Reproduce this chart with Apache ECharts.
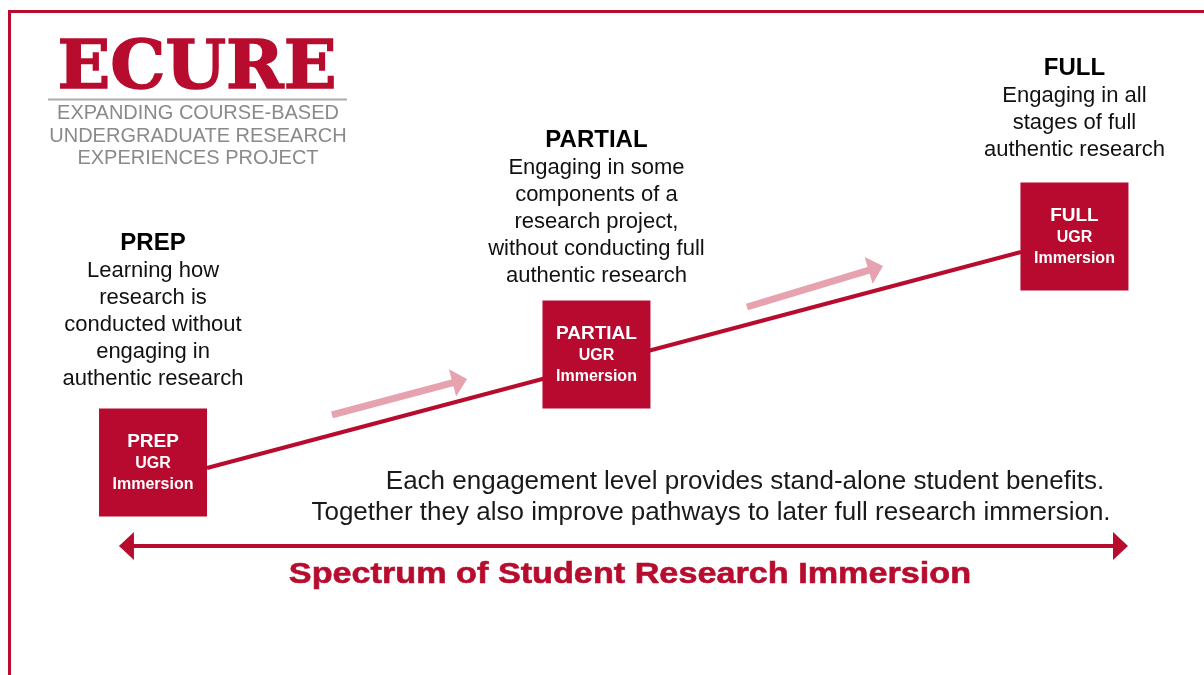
<!DOCTYPE html>
<html lang="en">
<head>
    <meta charset="UTF-8">
    <title>ECURE spectrum</title>
    <script src="https://cdn.jsdelivr.net/npm/echarts@6/dist/echarts.min.js"></script>
    <style>
        body, html { margin: 0; width: 100%; height: 100%; background: #fff; }
        #chart { width: 1204px; height: 675px; }
    </style>
</head>
<body>
    <div id="chart"></div>
    <script>
        // stages along the spectrum (x = spectrum position %, y = immersion %)
        var stages = ['PREP', 'PARTIAL', 'FULL'];
        var stageX = [12.71, 49.54, 89.24];
        var stageY = [31.48, 47.48, 64.96];
        var descriptions = [
            ['Learning how', 'research is', 'conducted without', 'engaging in', 'authentic research'],
            ['Engaging in some', 'components of a', 'research project,', 'without conducting full', 'authentic research'],
            ['Engaging in all', 'stages of full', 'authentic research']
        ];
        // connector line [x1, y1, x2, y2]
        var connector = [17.19, 30.67, 84.80, 62.67];
        // arrows [xStart, yStart, xTip, yTip]
        var progressArrows = [
            [27.57, 38.52, 38.79, 43.85],
            [62.04, 54.52, 73.34, 60.59]
        ];
        var spectrumArrows = [
            [51.8, 19.11, 9.88, 19.11],
            [51.7, 19.11, 93.69, 19.11]
        ];

        var red = '#b80c2f';
        var pink = '#e6a2ae';
        var labelGap = [16, 11, 19];
        var headW = 28, headL = 15;

        var myChart = echarts.init(document.getElementById('chart'));
        var kx = myChart.getWidth() / 100, ky = myChart.getHeight() / 100;

        // line ends at the centre of each head, head rotated along the line
        function arrowParts(list) {
            var lines = [], heads = [];
            list.forEach(function (a) {
                var dx = (a[2] - a[0]) * kx, dy = (a[3] - a[1]) * ky;
                var len = Math.sqrt(dx * dx + dy * dy);
                var cx = a[2] - (headL / 2) * dx / len / kx;
                var cy = a[3] - (headL / 2) * dy / len / ky;
                lines.push({ coords: [[a[0], a[1]], [cx, cy]] });
                heads.push({ value: [cx, cy], symbolRotate: Math.atan2(dy, dx) * 180 / Math.PI - 90 });
            });
            return { lines: lines, heads: heads };
        }
        var prog = arrowParts(progressArrows);
        var spec = arrowParts(spectrumArrows);
        var boxData = stages.map(function (s, i) { return [stageX[i], stageY[i]]; });

        var option = {
            animation: false,
            grid: { left: 0, right: 0, top: 0, bottom: 0 },
            xAxis: { type: 'value', min: 0, max: 100, show: false },
            yAxis: { type: 'value', min: 0, max: 100, show: false },
            graphic: [
                { type: 'rect', shape: { x: 9.5, y: 11.5, width: 1300, height: 800 },
                  style: { fill: 'none', stroke: red, lineWidth: 3 } },
                { type: 'text', x: 197, y: 70, scaleX: 1.02,
                  style: { text: 'ECURE', fill: red, stroke: red, lineWidth: 1.5,
                           fontFamily: '"DejaVu Serif", "Liberation Serif", serif',
                           fontWeight: 'bold', fontSize: 68, align: 'center', verticalAlign: 'middle' } },
                { type: 'line', shape: { x1: 48, y1: 99.5, x2: 347, y2: 99.5 },
                  style: { stroke: '#aaaaaa', lineWidth: 2 } },
                { type: 'text', x: 198, y: 113, style: { text: 'EXPANDING COURSE-BASED', fill: '#8a8a8a',
                  font: '20px "Liberation Sans"', align: 'center', verticalAlign: 'middle' } },
                { type: 'text', x: 198, y: 136, style: { text: 'UNDERGRADUATE RESEARCH', fill: '#8a8a8a',
                  font: '20px "Liberation Sans"', align: 'center', verticalAlign: 'middle' } },
                { type: 'text', x: 198, y: 158, style: { text: 'EXPERIENCES PROJECT', fill: '#8a8a8a',
                  font: '20px "Liberation Sans"', align: 'center', verticalAlign: 'middle' } },
                { type: 'text', x: 745, y: 482, style: { text: 'Each engagement level provides stand-alone student benefits.',
                  fill: '#1a1a1a', font: '26px "Liberation Sans"', align: 'center', verticalAlign: 'middle' } },
                { type: 'text', x: 711, y: 513, style: { text: 'Together they also improve pathways to later full research immersion.',
                  fill: '#1a1a1a', font: '26px "Liberation Sans"', align: 'center', verticalAlign: 'middle' } },
                { type: 'text', x: 630, y: 575, scaleX: 1.14, style: { text: 'Spectrum of Student Research Immersion',
                  fill: red, stroke: red, lineWidth: 0.6, font: 'bold 30px "Liberation Sans"', align: 'center', verticalAlign: 'middle' } }
            ],
            series: [
                {
                    type: 'lines',
                    coordinateSystem: 'cartesian2d',
                    symbol: 'none',
                    lineStyle: { color: red, width: 4, opacity: 1 },
                    data: [{ coords: [[connector[0], connector[1]], [connector[2], connector[3]]] }],
                    z: 1
                },
                {
                    type: 'lines',
                    coordinateSystem: 'cartesian2d',
                    symbol: 'none',
                    lineStyle: { color: pink, width: 7, opacity: 1 },
                    data: prog.lines
                },
                {
                    type: 'scatter',
                    symbol: 'triangle',
                    symbolSize: [headW, headL],
                    itemStyle: { color: pink, opacity: 1 },
                    data: prog.heads
                },
                {
                    type: 'lines',
                    coordinateSystem: 'cartesian2d',
                    symbol: 'none',
                    lineStyle: { color: red, width: 4, opacity: 1, cap: 'butt' },
                    data: spec.lines
                },
                {
                    type: 'scatter',
                    symbol: 'triangle',
                    symbolSize: [headW, headL],
                    itemStyle: { color: red, opacity: 1 },
                    data: spec.heads
                },
                {
                    type: 'scatter',
                    symbol: 'rect',
                    symbolSize: 108,
                    itemStyle: { color: '#b70a2e', opacity: 1 },
                    z: 3,
                    label: {
                        show: true,
                        position: 'inside',
                        formatter: function (p) { return '{a|' + stages[p.dataIndex] + '}\n{b|UGR}\n{b|Immersion}'; },
                        rich: {
                            a: { fontFamily: 'Liberation Sans', fontWeight: 'bold', fontSize: 19, color: '#fff', lineHeight: 23 },
                            b: { fontFamily: 'Liberation Sans', fontWeight: 'bold', fontSize: 16, color: '#fff', lineHeight: 21 }
                        }
                    },
                    data: boxData
                },
                {
                    type: 'scatter',
                    symbol: 'rect',
                    symbolSize: 108,
                    itemStyle: { color: 'rgba(0,0,0,0)' },
                    silent: true,
                    label: {
                        show: true,
                        position: 'top',
                        align: 'center',
                        color: '#111',
                        opacity: 1,
                        textBorderWidth: 0,
                        formatter: function (p) {
                            return '{t|' + stages[p.dataIndex] + '}\n' +
                                descriptions[p.dataIndex].map(function (d) { return '{d|' + d + '}'; }).join('\n');
                        },
                        rich: {
                            t: { fontFamily: 'Liberation Sans', fontWeight: 'bold', fontSize: 24, color: '#000', lineHeight: 28, align: 'center', textBorderWidth: 0 },
                            d: { fontFamily: 'Liberation Sans', fontSize: 22, color: '#111', lineHeight: 27, align: 'center', textBorderWidth: 0 }
                        }
                    },
                    data: boxData.map(function (v, i) { return { value: v, label: { distance: labelGap[i] } }; })
                }
            ]
        };
        myChart.setOption(option);
    </script>
</body>
</html>
